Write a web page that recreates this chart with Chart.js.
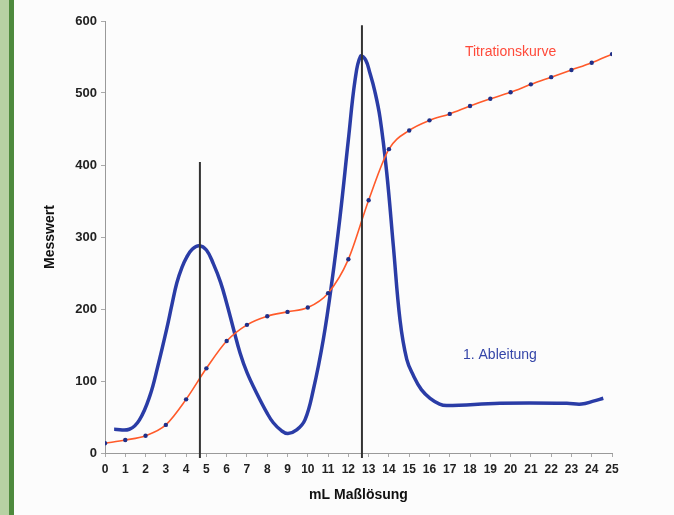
<!DOCTYPE html>
<html>
<head>
<meta charset="utf-8">
<script src="https://cdn.jsdelivr.net/npm/chart.js@4/dist/chart.umd.min.js"></script>
<style>
  html, body { margin: 0; padding: 0; }
  body {
    width: 674px; height: 515px; overflow: hidden;
    background: linear-gradient(to right, #b7d1a3 0px, #b7d1a3 9px, #4e8a3d 9px, #4e8a3d 14px, #fcfcfc 14px);
  }
  #wrap { position: absolute; left: 0; top: 0; width: 674px; height: 515px; }
</style>
</head>
<body>
<div id="wrap"><canvas id="c" width="674" height="515"></canvas></div>
<script>
// Titration curve (measured points at each mL)
const titrationX = [0,1,2,3,4,5,6,7,8,9,10,11,12,13,14,15,16,17,18,19,20,21,22,23,24,25];
const titrationY = [13.5,18,24,39,74.5,117.6,155.5,178,190,196,202,222,269,351,422,448,462,471,482,492,501,512,522,532,542,554];

// 1st derivative curve
const derivX = [0.45,1.2,1.7,2.22,2.6,3.04,3.3,3.54,3.8,4.03,4.3,4.64,5.0,5.34,5.7,6.0,6.33,6.66,7.0,7.48,8.0,8.3,8.7,9.02,9.45,9.86,10.27,10.76,11.18,11.59,12.0,12.33,12.6,12.85,13.07,13.3,13.56,13.89,14.22,14.55,14.88,15.2,15.6,16.03,16.5,16.85,19.48,22.77,23.5,24.08,24.57];
const derivY = [33,33,46,80,120,172,206,236,258,272,283,288,282,263,237,208,173,139,112,83,55,42,31,27,32,46,87.5,157,236,328,435,518,551,546,527,503,466,390,287,184,130,108,88,76,68,66,69,69,68,72,76];

// Equivalence point markers
const markerX = [4.68, 12.67];
const markerTop = [404, 594];
const markerBottom = -7;

// Axis ticks / labels
const xMin = 0, xMax = 25, xStep = 1;
const yMin = 0, yMax = 600, yStep = 100;
const xTitle = 'mL Maßlösung';
const yTitle = 'Messwert';
const labelTitration = {text: 'Titrationskurve', x: 17.75, y: 557};
const labelDeriv = {text: '1. Ableitung', x: 17.65, y: 136};

const pts = (xs, ys) => xs.map((x, i) => ({x, y: ys[i]}));

const markerDatasets = markerX.map((x, i) => ({
  data: [{x, y: markerBottom}, {x, y: markerTop[i]}],
  borderColor: '#333333',
  borderWidth: 2,
  pointRadius: 0,
  tension: 0,
  clip: false
}));

const textPlugin = {
  id: 'textLabels',
  afterDatasetsDraw(chart) {
    const {ctx, scales: {x, y}} = chart;
    ctx.save();
    ctx.font = '14px "Liberation Sans", Arial, sans-serif';
    ctx.textBaseline = 'middle';
    ctx.textAlign = 'left';
    ctx.fillStyle = '#ff4a3a';
    ctx.fillText(labelTitration.text, x.getPixelForValue(labelTitration.x), y.getPixelForValue(labelTitration.y));
    ctx.fillStyle = '#3445a8';
    ctx.fillText(labelDeriv.text, x.getPixelForValue(labelDeriv.x), y.getPixelForValue(labelDeriv.y));
    ctx.restore();
  }
};

new Chart(document.getElementById('c'), {
  type: 'line',
  data: {
    datasets: [
      ...markerDatasets,
      {
        data: pts(titrationX, titrationY),
        borderColor: '#ff5a2a',
        borderWidth: 1.6,
        pointRadius: 2.2,
        pointBackgroundColor: '#1f2f88',
        pointBorderWidth: 0,
        cubicInterpolationMode: 'monotone'
      },
      {
        data: pts(derivX, derivY),
        borderColor: '#2a3ca6',
        borderWidth: 3.5,
        pointRadius: 0,
        tension: 0.4
      }
    ]
  },
  options: {
    responsive: false,
    animation: false,
    events: [],
    layout: { padding: { left: 14, top: 21, right: 62, bottom: 0 } },
    plugins: { legend: { display: false }, tooltip: { enabled: false } },
    scales: {
      x: {
        type: 'linear',
        min: xMin, max: xMax,
        afterFit(s) { s.height = 62; },
        grid: { drawOnChartArea: false, tickLength: 4, color: '#aaaaaa' },
        border: { color: '#9a9a9a', width: 1 },
        ticks: {
          stepSize: xStep, padding: 5, color: '#222',
          autoSkip: false, maxRotation: 0,
          font: { family: '"Liberation Sans", Arial, sans-serif', size: 12, weight: 'bold' }
        },
        title: {
          display: true, text: xTitle, color: '#111',
          font: { family: '"Liberation Sans", Arial, sans-serif', size: 14, weight: 'bold' },
          padding: { top: 0, bottom: 11 }
        }
      },
      y: {
        min: yMin, max: yMax,
        afterFit(s) { s.width = 91; },
        grid: { drawOnChartArea: false, tickLength: 4, color: '#aaaaaa' },
        border: { color: '#9a9a9a', width: 1 },
        ticks: {
          stepSize: yStep, padding: 4, color: '#222',
          font: { family: '"Liberation Sans", Arial, sans-serif', size: 13, weight: 'bold' }
        },
        title: {
          display: true, text: yTitle, color: '#111',
          font: { family: '"Liberation Sans", Arial, sans-serif', size: 14, weight: 'bold' },
          padding: { top: 28, bottom: 0 }
        }
      }
    }
  },
  plugins: [textPlugin]
});
</script>
</body>
</html>
